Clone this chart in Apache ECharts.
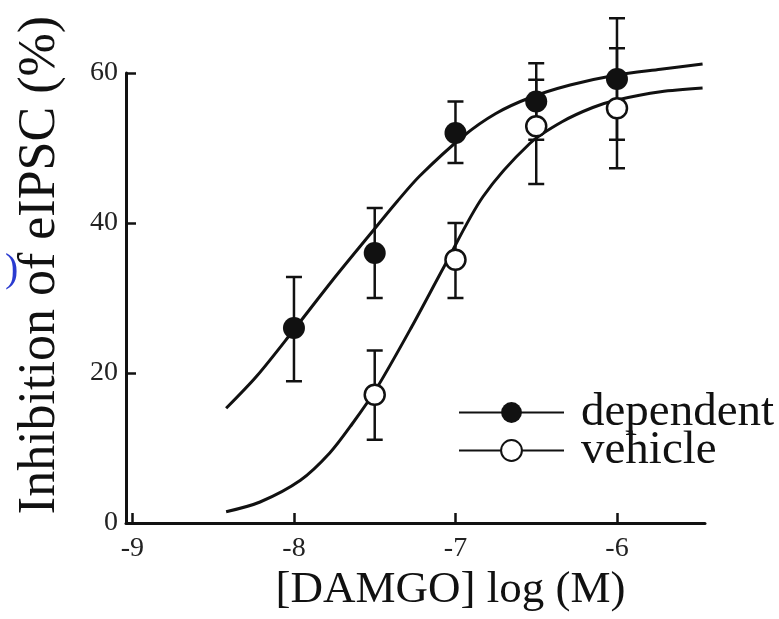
<!DOCTYPE html>
<html>
<head>
<meta charset="utf-8">
<script src="https://cdn.jsdelivr.net/npm/echarts@6/dist/echarts.min.js"></script>
<style>
  html, body { margin: 0; padding: 0; background: #fff; }
  #chart { width: 779px; height: 619px; }
</style>
</head>
<body>
<div id="chart"></div>
<script>
// ---- data ----
const xTicks = [-9, -8, -7, -6];
const yTicks = [0, 20, 40, 60];

// measured points (log M) and mean inhibition (%)
const depX    = [-8, -7.5, -7, -6.5, -6];
const depMean = [26.0, 36.0, 52.0, 56.2, 59.2];
const depLow  = [18.9, 30.0, 48.0, 51.1, 51.1];
const depHigh = [32.8, 42.0, 56.2, 61.3, 67.3];

const vehX    = [-7.5, -7, -6.5, -6];
const vehMean = [17.1, 35.1, 52.9, 55.3];
const vehLow  = [11.1, 30.0, 45.2, 47.3];
const vehHigh = [23.0, 40.0, 59.1, 63.3];

// fitted curves
const depCurveX = [-8.42, -8.23, -8.01, -7.76, -7.54, -7.36, -7.22, -6.95, -6.75, -6.54, -6.29, -6.01, -5.73, -5.47];
const depCurveY = [15.3, 19.6, 25.5, 32.4, 38.2, 42.9, 46.3, 51.6, 54.6, 56.7, 58.4, 59.7, 60.5, 61.2];

const vehCurveX = [-8.42, -8.21, -7.96, -7.78, -7.64, -7.49, -7.27, -7.07, -6.83, -6.54, -6.34, -6.15, -6.00, -5.73, -5.47];
const vehCurveY = [1.5, 2.8, 5.7, 9.3, 13.2, 17.9, 26.2, 34.2, 43.5, 50.6, 53.5, 55.4, 56.4, 57.5, 58.0];

const seriesNames = ['dependent', 'vehicle'];
const xTitle = '[DAMGO] log (M)';
const yTitle = 'Inhibition of eIPSC (%)';

// ---- build chart ----
const zip = (a, b) => a.map((v, i) => [v, b[i]]);
const zip3 = (a, b, c) => a.map((v, i) => [v, b[i], c[i]]);
const serif = '"Liberation Serif", "DejaVu Serif", serif';
const ink = '#111';

function errorBars(api) {
  const x = api.value(0);
  const lo = api.coord([x, api.value(1)]);
  const hi = api.coord([x, api.value(2)]);
  const w = 8;
  const style = { stroke: ink, lineWidth: 2.5, fill: null };
  return {
    type: 'group',
    children: [
      { type: 'line', shape: { x1: lo[0], y1: lo[1], x2: hi[0], y2: hi[1] }, style },
      { type: 'line', shape: { x1: lo[0] - w, y1: lo[1], x2: lo[0] + w, y2: lo[1] }, style },
      { type: 'line', shape: { x1: hi[0] - w, y1: hi[1], x2: hi[0] + w, y2: hi[1] }, style }
    ]
  };
}

const chart = echarts.init(document.getElementById('chart'), null, { renderer: 'canvas' });
chart.setOption({
  animation: false,
  backgroundColor: '#fff',
  grid: { left: 126, right: 74, top: 73, bottom: 96, containLabel: false },
  xAxis: {
    type: 'value',
    min: -9.04,
    max: -5.455,
    name: xTitle,
    nameLocation: 'middle',
    nameGap: 38,
    nameTextStyle: { fontFamily: serif, fontSize: 45, color: ink, padding: [0, 0, 0, 70] },
    axisLine: { show: true, onZero: false, lineStyle: { color: ink, width: 3 } },
    axisTick: { show: true, inside: true, length: 10, customValues: xTicks, lineStyle: { color: ink, width: 2.5 } },
    axisLabel: { customValues: xTicks, margin: 12, fontFamily: serif, fontSize: 28, color: '#222',
                 formatter: v => String(v) },
    splitLine: { show: false }
  },
  yAxis: {
    type: 'value',
    min: 0,
    max: 60,
    interval: 20,
    name: yTitle,
    nameLocation: 'middle',
    nameRotate: 90,
    nameGap: 60,
    nameTextStyle: { fontFamily: serif, fontSize: 52, color: ink, padding: [0, 0, 0, 66] },
    axisLine: { show: true, lineStyle: { color: ink, width: 3 } },
    axisTick: { show: true, inside: true, length: 10, lineStyle: { color: ink, width: 2.5 } },
    axisLabel: { margin: 8, fontFamily: serif, fontSize: 28, color: '#222' },
    splitLine: { show: false }
  },
  legend: {
    orient: 'vertical',
    left: 458,
    top: 389,
    padding: 0,
    itemWidth: 105,
    itemHeight: 26,
    itemGap: -9,
    data: seriesNames,
    textStyle: { fontFamily: serif, fontSize: 47, color: ink, lineHeight: 30, padding: [0, 0, 0, 12] }
  },
  graphic: [
    { type: 'text', left: 5, top: 250, style: { text: ')', font: '40px ' + serif, fill: '#2a3bd0' } }
  ],
  series: [
    {
      name: seriesNames[0], type: 'line', data: zip(depCurveX, depCurveY), smooth: 0.3,
      symbol: 'circle', symbolSize: 20, showSymbol: false, z: 3, clip: false,
      lineStyle: { color: ink, width: 3 },
      itemStyle: { color: ink }
    },
    {
      name: seriesNames[1], type: 'line', data: zip(vehCurveX, vehCurveY), smooth: 0.3,
      symbol: 'circle', symbolSize: 20, showSymbol: false, z: 3, clip: false,
      lineStyle: { color: ink, width: 3 },
      itemStyle: { color: '#fff', borderColor: ink, borderWidth: 2.5 }
    },
    {
      type: 'custom', renderItem: (p, api) => errorBars(api), data: zip3(depX, depLow, depHigh), z: 2, silent: true, clip: false
    },
    {
      type: 'custom', renderItem: (p, api) => errorBars(api), data: zip3(vehX, vehLow, vehHigh), z: 2, silent: true, clip: false
    },
    {
      type: 'scatter', data: zip(depX, depMean), symbol: 'circle', symbolSize: 22, z: 5, clip: false,
      itemStyle: { color: ink, opacity: 1 }
    },
    {
      type: 'scatter', data: zip(vehX, vehMean), symbol: 'circle', symbolSize: 20, z: 5, clip: false,
      itemStyle: { color: '#fff', borderColor: ink, borderWidth: 2.5, opacity: 1 }
    }
  ]
});
</script>
</body>
</html>
